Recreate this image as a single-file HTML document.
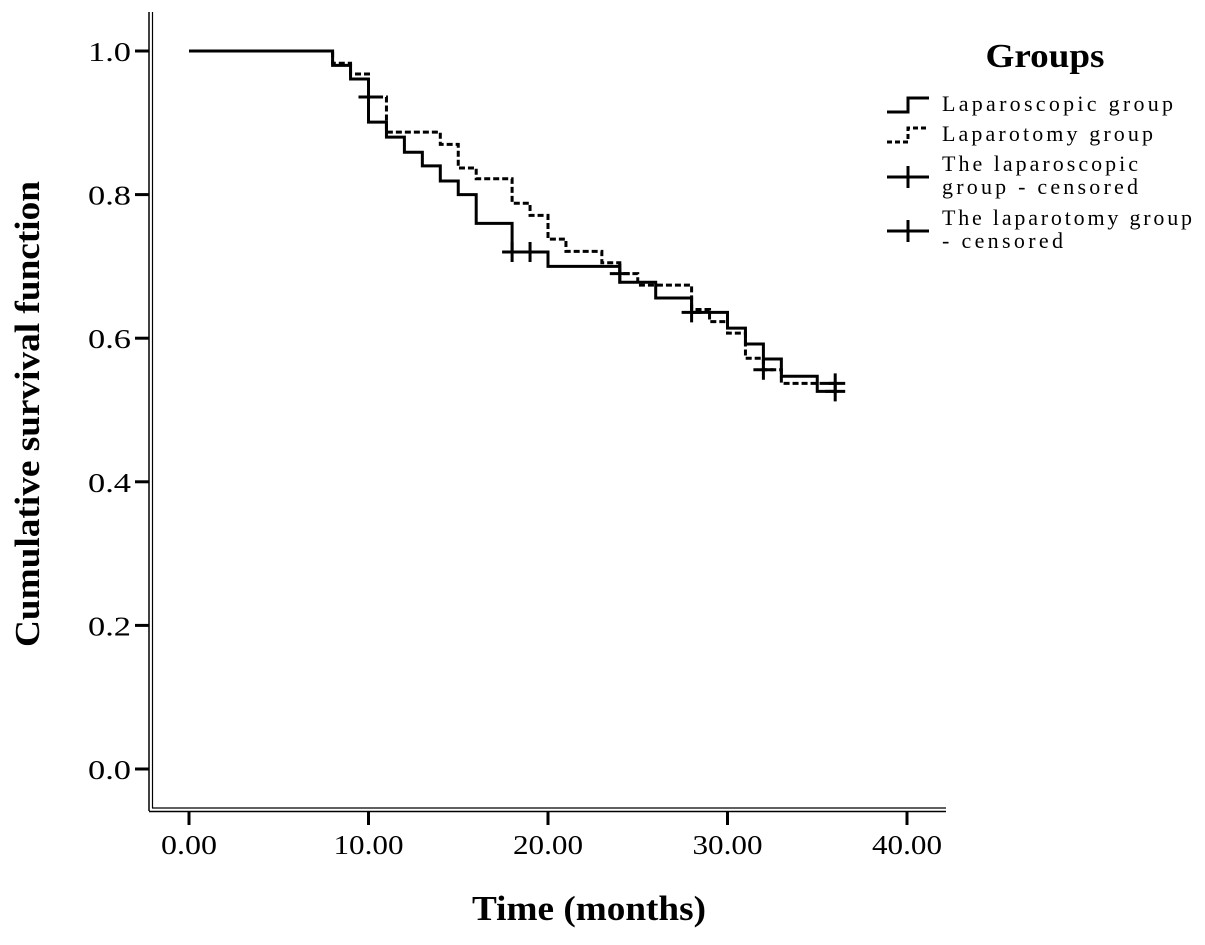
<!DOCTYPE html>
<html><head><meta charset="utf-8"><style>
body{margin:0;background:#fff;}
svg text{font-family:"Liberation Serif",serif;fill:#000;}
</style></head><body>
<svg id="chart" width="1205" height="940" xmlns="http://www.w3.org/2000/svg">
<g stroke="#000" fill="none">
<line x1="149" y1="12" x2="149" y2="811" stroke-width="1.5"/>
<line x1="152.5" y1="12" x2="152.5" y2="808" stroke-width="1.2"/>
<line x1="149" y1="811.5" x2="946" y2="811.5" stroke-width="1.5"/>
<line x1="152" y1="808" x2="946" y2="808" stroke-width="1.2"/>
</g>
<g id="yticks"></g>
<g id="xticks"></g>
<g id="series"></g>
<text x="0" y="0" transform="translate(39,414) rotate(-90)" text-anchor="middle" font-size="35" font-weight="bold" textLength="466" lengthAdjust="spacingAndGlyphs">Cumulative survival function</text>
<text x="589" y="920" text-anchor="middle" font-size="35" font-weight="bold" textLength="234" lengthAdjust="spacingAndGlyphs">Time (months)</text>
<g>
<text x="1045" y="67" text-anchor="middle" font-size="34" font-weight="bold" textLength="119" lengthAdjust="spacingAndGlyphs">Groups</text>
<g>
<path d="M887,112 H908 V98 H929" stroke="#000" stroke-width="3" fill="none"/>
<text x="942" y="111" font-size="22" textLength="231" lengthAdjust="spacing">Laparoscopic group</text></g>
<g>
<path d="M887,142 H908 V128 H929" stroke="#000" stroke-width="3" fill="none" stroke-dasharray="5,3"/>
<text x="942" y="141" font-size="22" textLength="211" lengthAdjust="spacing">Laparotomy group</text></g>
<g>
<path d="M887,177 H929 M908,166 V188" stroke="#000" stroke-width="3"/>
<text x="942" y="171" font-size="22" textLength="196" lengthAdjust="spacing">The laparoscopic</text>
<text x="942" y="194" font-size="22" textLength="196" lengthAdjust="spacing">group - censored</text></g>
<g>
<path d="M887,231 H929 M908,220 V242" stroke="#000" stroke-width="3"/>
<text x="942" y="225" font-size="22" textLength="250" lengthAdjust="spacing">The laparotomy group</text>
<text x="942" y="248" font-size="22" textLength="121" lengthAdjust="spacing">- censored</text></g>
</g>
</svg>
<script>
const yTicks=[0,0.2,0.4,0.6,0.8,1.0];
const yTickLabels=["0.0","0.2","0.4","0.6","0.8","1.0"];
const xTicks=[0,10,20,30,40];
const xTickLabels=["0.00","10.00","20.00","30.00","40.00"];
const lapTimes=[0,8,9,10,11,12,13,14,15,16,18,20,24,26,28,30,31,32,33,35,36];
const lapSurv=[1.0,0.98,0.961,0.901,0.880,0.859,0.840,0.819,0.80,0.76,0.72,0.70,0.678,0.656,0.636,0.614,0.592,0.571,0.547,0.526,0.526];
const lapCensorT=[18,19,28,36];
const lapCensorS=[0.72,0.72,0.636,0.526];
const lotTimes=[0,8,9,10,11,14,15,16,18,19,20,21,23,24,25,28,29,30,31,32,33,36];
const lotSurv=[1.0,0.983,0.968,0.936,0.887,0.870,0.837,0.822,0.788,0.771,0.738,0.721,0.705,0.69,0.674,0.64,0.623,0.607,0.572,0.556,0.537,0.537];
const lotCensorT=[10,24,32,36];
const lotCensorS=[0.936,0.69,0.556,0.537];
const NS="http://www.w3.org/2000/svg";
const sx=t=>189+t*17.95;
const sy=s=>769-s*718;
function mk(tag,attrs,parent){const e=document.createElementNS(NS,tag);for(const k in attrs)e.setAttribute(k,attrs[k]);parent.appendChild(e);return e;}
const yg=document.getElementById('yticks'),xg=document.getElementById('xticks'),sg=document.getElementById('series');
yTicks.forEach((v,i)=>{
 const l=mk('line',{x1:135,x2:149,y1:sy(v),y2:sy(v),stroke:'#000','stroke-width':3},yg);
 
 
 const t=mk('text',{x:131,y:sy(v)+10,'text-anchor':'end','font-size':27,textLength:43,lengthAdjust:'spacingAndGlyphs'},yg);t.textContent=yTickLabels[i];
 
 
});
xTicks.forEach((v,i)=>{
 const l=mk('line',{x1:sx(v),x2:sx(v),y1:812,y2:825,stroke:'#000','stroke-width':3},xg);
 
 
 const t=mk('text',{x:sx(v),y:854,'text-anchor':'middle','font-size':27,textLength:xTickLabels[i].length>4?70:56,lengthAdjust:'spacingAndGlyphs'},xg);t.textContent=xTickLabels[i];
 
 
});
function stepPath(T,S){let d='M'+sx(T[0])+','+sy(S[0]);for(let i=1;i<T.length;i++){d+=' H'+sx(T[i])+' V'+sy(S[i]);}return d;}
const p1=mk('path',{d:stepPath(lapTimes,lapSurv),stroke:'#000','stroke-width':3,fill:'none'},sg);


const p2=mk('path',{d:stepPath(lotTimes,lotSurv),stroke:'#000','stroke-width':3,fill:'none','stroke-dasharray':'6,3'},sg);


function censor(T,S,name){T.forEach((t,i)=>{const x=sx(t),y=sy(S[i]);
 const c=mk('path',{d:`M${x-10},${y} H${x+10} M${x},${y-10} V${y+10}`,stroke:'#000','stroke-width':3},sg);
 
 });}
censor(lapCensorT,lapCensorS,'laparoscopic-censor-mark');
censor(lotCensorT,lotCensorS,'laparotomy-censor-mark');
</script>
</body></html>
